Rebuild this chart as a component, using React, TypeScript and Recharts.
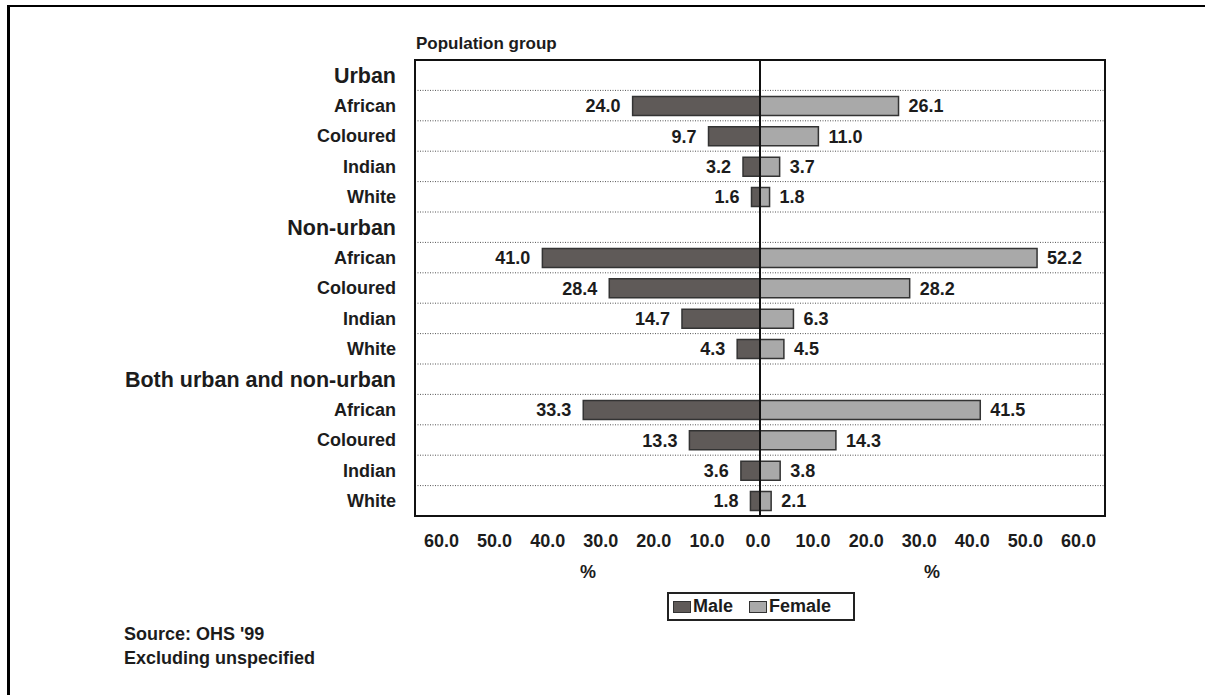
import {
  BarChart,
  Bar,
  XAxis,
  YAxis,
  CartesianGrid,
  ReferenceLine,
  ReferenceArea,
  LabelList,
  Legend,
} from "recharts";

const rowLabels = [
  "Urban",
  "African",
  "Coloured",
  "Indian",
  "White",
  "Non-urban",
  "African",
  "Coloured",
  "Indian",
  "White",
  "Both urban and non-urban",
  "African",
  "Coloured",
  "Indian",
  "White",
];
const groupLabels = ["Urban", "Non-urban", "Both urban and non-urban"];
const maleValues = [null, 24.0, 9.7, 3.2, 1.6, null, 41.0, 28.4, 14.7, 4.3, null, 33.3, 13.3, 3.6, 1.8];
const femaleValues = [null, 26.1, 11.0, 3.7, 1.8, null, 52.2, 28.2, 6.3, 4.5, null, 41.5, 14.3, 3.8, 2.1];
const seriesNames = ["Male", "Female"];
const xTicks = [-60, -50, -40, -30, -20, -10, 0, 10, 20, 30, 40, 50, 60];

const FONT = "'Liberation Sans', Arial, sans-serif";
const INK = "#1c1c1c";
const MALE = "#5f5a58";
const FEMALE = "#a9a9a9";

const data = rowLabels.map((label, i) => ({
  label,
  male: maleValues[i] == null ? null : -(maleValues[i] as number),
  female: femaleValues[i],
}));

const fmt = (v: any) => (v == null ? "" : Math.abs(Number(v)).toFixed(1));

const RowTick = (props: any) => {
  const { x, y, payload } = props;
  const isGroup = groupLabels.includes(payload.value);
  return (
    <text
      x={x - 19}
      y={y}
      dy="0.36em"
      textAnchor="end"
      fontSize={isGroup ? 21.5 : 18}
      fontWeight="bold"
      fill={INK}
      fontFamily={FONT}
    >
      {payload.value}
    </text>
  );
};

const ValueTick = (props: any) => {
  const { x, y, payload } = props;
  return (
    <text
      x={payload.value === 0 ? x - 2 : x}
      y={y}
      dy={31}
      textAnchor="middle"
      fontSize={18}
      fontWeight="bold"
      fill={INK}
      fontFamily={FONT}
    >
      {fmt(payload.value)}
    </text>
  );
};

const LegendBox = (props: any) => {
  const items = [...(props.payload || [])].sort(
    (a: any, b: any) => seriesNames.indexOf(a.value) - seriesNames.indexOf(b.value)
  );
  return (
    <div
      style={{
        border: "2px solid #222",
        height: 25,
        width: 180,
        display: "flex",
        alignItems: "center",
        paddingLeft: 4,
        boxSizing: "content-box",
        fontFamily: FONT,
        fontWeight: "bold",
        fontSize: 18,
        color: INK,
      }}
    >
      {items.map((it: any) => (
        <span key={it.value} style={{ display: "flex", alignItems: "center", marginRight: 16 }}>
          <span
            style={{
              display: "inline-block",
              width: 16,
              height: 10,
              background: it.color,
              border: "1.5px solid #333",
              marginRight: 2,
            }}
          />
          {it.value}
        </span>
      ))}
    </div>
  );
};

export default function App() {
  return (
    <div
      style={{
        position: "absolute",
        left: 0,
        top: 0,
        width: 1205,
        height: 695,
        overflow: "hidden",
        background: "#fff",
        fontFamily: FONT,
        color: INK,
      }}
    >
      <div style={{ position: "absolute", left: 0, top: 0 }}>
        <BarChart
          width={1205}
          height={695}
          data={data}
          layout="vertical"
          barGap={-19}
          margin={{ top: 60, right: 100, bottom: 139, left: 0 }}
        >
          <CartesianGrid
            vertical={false}
            stroke="#555"
            strokeDasharray="1 1.5"
            horizontalCoordinatesGenerator={({ offset }: any) =>
              rowLabels.map((_, i) => offset.top + ((i + 1) * offset.height) / rowLabels.length)
            }
          />
          <XAxis
            type="number"
            domain={[-65, 65]}
            ticks={xTicks}
            height={40}
            axisLine={false}
            tickLine={false}
            tickSize={0}
            tickMargin={0}
            interval={0}
            tick={<ValueTick />}
          />
          <YAxis
            type="category"
            dataKey="label"
            width={415}
            axisLine={false}
            tickLine={false}
            tickSize={0}
            tickMargin={0}
            interval={0}
            tick={<RowTick />}
          />
          <Bar
            dataKey="male"
            name="Male"
            fill={MALE}
            stroke="#333"
            strokeWidth={1.5}
            barSize={19}
            isAnimationActive={false}
          >
            <LabelList
              dataKey="male"
              position="right"
              offset={12}
              formatter={fmt}
              fill={INK}
              fontSize={18}
              fontWeight="bold"
              fontFamily={FONT}
            />
          </Bar>
          <Bar
            dataKey="female"
            name="Female"
            fill={FEMALE}
            stroke="#333"
            strokeWidth={1.5}
            barSize={19}
            isAnimationActive={false}
          >
            <LabelList
              dataKey="female"
              position="right"
              offset={10}
              formatter={fmt}
              fill={INK}
              fontSize={18}
              fontWeight="bold"
              fontFamily={FONT}
            />
          </Bar>
          <ReferenceLine x={0} stroke="#111" strokeWidth={2} />
          <ReferenceArea x1={-65} x2={65} fill="none" stroke="#111" strokeWidth={2} ifOverflow="visible" />
          <Legend
            layout="horizontal"
            verticalAlign="middle"
            align="center"
            content={<LegendBox />}
            wrapperStyle={{ left: 667, top: 592, width: 184, height: 29 }}
          />
        </BarChart>
      </div>
      <div
        style={{
          position: "absolute",
          left: 7,
          top: 5,
          width: 1400,
          height: 900,
          borderLeft: "3px solid #000",
          borderTop: "2px solid #000",
          pointerEvents: "none",
          zIndex: 2,
        }}
      />
      <div style={{ position: "absolute", left: 416, top: 35, fontSize: 17, fontWeight: "bold", lineHeight: "18px" }}>
        Population group
      </div>
      <div style={{ position: "absolute", left: 558, width: 60, textAlign: "center", top: 563, fontSize: 18, fontWeight: "bold", lineHeight: "18px" }}>
        %
      </div>
      <div style={{ position: "absolute", left: 902, width: 60, textAlign: "center", top: 563, fontSize: 18, fontWeight: "bold", lineHeight: "18px" }}>
        %
      </div>
      <div style={{ position: "absolute", left: 124, top: 622, fontSize: 18, fontWeight: "bold", lineHeight: "24px" }}>
        <div>Source: OHS '99</div>
        <div>Excluding unspecified</div>
      </div>
    </div>
  );
}
